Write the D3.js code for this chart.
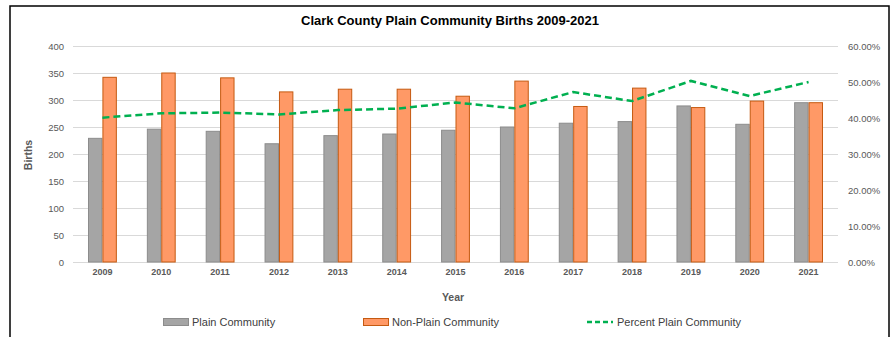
<!DOCTYPE html>
<html>
<head>
<meta charset="utf-8">
<script src="https://cdn.jsdelivr.net/npm/d3@7"></script>
<style>
  html, body { margin: 0; padding: 0; background: #fff; }
  svg { display: block; font-family: "Liberation Sans", Arial, sans-serif; }
</style>
</head>
<body>
<svg id="chart" width="894" height="337"></svg>
<script>
// Births by year, Clark County
const years = ["2009","2010","2011","2012","2013","2014","2015","2016","2017","2018","2019","2020","2021"];
const plainBirths    = [229, 246, 242, 219, 234, 237, 244, 250, 257, 260, 289, 255, 295];
const nonPlainBirths = [342, 350, 341, 315, 320, 320, 307, 335, 288, 322, 286, 298, 295];
const percentPlain   = [0.401, 0.413, 0.415, 0.410, 0.422, 0.426, 0.443, 0.427, 0.472, 0.447, 0.503, 0.461, 0.500];

const birthTicks   = [0, 50, 100, 150, 200, 250, 300, 350, 400];
const percentTicks = [0, 0.1, 0.2, 0.3, 0.4, 0.5, 0.6];

const seriesNames = ["Plain Community", "Non-Plain Community", "Percent Plain Community"];
const colors = {
  plainFill: "#A5A5A5", plainStroke: "#8C8C8C",
  nonPlainFill: "#FF9966", nonPlainStroke: "#C55A11",
  line: "#00B050", grid: "#D9D9D9", text: "#595959", legendText: "#404040"
};

const svg = d3.select("#chart");

// chart frame
svg.append("rect")
  .attr("x", 10).attr("y", 6).attr("width", 879).attr("height", 345)
  .attr("fill", "#fff").attr("stroke", "#000").attr("stroke-width", 1.5);

const plot = { left: 73, right: 838, top: 46, bottom: 262 };

const x = d3.scaleBand().domain(years).range([plot.left, plot.right]).paddingInner(0.51).paddingOuter(0.255);
const x1 = d3.scaleBand().domain(["plain", "nonPlain"]).range([0, x.bandwidth()]);
const y = d3.scaleLinear().domain([0, 400]).range([plot.bottom, plot.top]);
const yPct = d3.scaleLinear().domain([0, 0.6]).range([plot.bottom, plot.top]);

// gridlines
svg.append("g")
  .selectAll("line").data(birthTicks).join("line")
  .attr("x1", plot.left).attr("x2", plot.right)
  .attr("y1", d => Math.round(y(d)) + 0.5).attr("y2", d => Math.round(y(d)) + 0.5)
  .attr("stroke", colors.grid).attr("stroke-width", 1);

// left axis
const leftAxis = svg.append("g")
  .attr("transform", `translate(${plot.left - 9},0)`)
  .call(d3.axisLeft(y).tickValues(birthTicks).tickSize(0).tickPadding(0));
leftAxis.select(".domain").remove();
leftAxis.selectAll("text").attr("fill", colors.text).style("font-size", "9.5px");

// right axis
const rightAxis = svg.append("g")
  .attr("transform", `translate(${plot.right + 10},0)`)
  .call(d3.axisRight(yPct).tickValues(percentTicks).tickFormat(d3.format(".2%")).tickSize(0).tickPadding(0));
rightAxis.select(".domain").remove();
rightAxis.selectAll("text").attr("fill", colors.text).style("font-size", "9.5px");

// bottom axis labels
const bottomAxis = svg.append("g")
  .attr("transform", `translate(0,${plot.bottom + 7})`)
  .call(d3.axisBottom(x).tickSize(0).tickPadding(0));
bottomAxis.select(".domain").remove();
bottomAxis.selectAll("text").attr("fill", colors.text)
  .style("font-size", "9px").style("font-weight", "bold");

// bars
const groups = svg.append("g").selectAll("g").data(years).join("g")
  .attr("transform", d => `translate(${x(d)},0)`);

groups.append("rect")
  .attr("x", x1("plain") + 0.5)
  .attr("y", (d, i) => y(plainBirths[i]))
  .attr("width", x1.bandwidth() - 1)
  .attr("height", (d, i) => y(0) - y(plainBirths[i]))
  .attr("fill", colors.plainFill).attr("stroke", colors.plainStroke).attr("stroke-width", 1);

groups.append("rect")
  .attr("x", x1("nonPlain") + 0.5)
  .attr("y", (d, i) => y(nonPlainBirths[i]))
  .attr("width", x1.bandwidth() - 1)
  .attr("height", (d, i) => y(0) - y(nonPlainBirths[i]))
  .attr("fill", colors.nonPlainFill).attr("stroke", colors.nonPlainStroke).attr("stroke-width", 1);

// percent line
const line = d3.line()
  .x((d, i) => x(years[i]) + x.bandwidth() / 2)
  .y(d => yPct(d));
svg.append("path")
  .datum(percentPlain)
  .attr("d", line)
  .attr("fill", "none").attr("stroke", colors.line)
  .attr("stroke-width", 2.5).attr("stroke-dasharray", "7,4");

// title
svg.append("text")
  .attr("x", 450).attr("y", 25).attr("text-anchor", "middle")
  .attr("textLength", 298).attr("lengthAdjust", "spacingAndGlyphs")
  .style("font-size", "13.5px").style("font-weight", "bold").attr("fill", "#000")
  .text("Clark County Plain Community Births 2009-2021");

// axis titles
svg.append("text")
  .attr("transform", "translate(32,155) rotate(-90)")
  .attr("text-anchor", "middle")
  .style("font-size", "10.5px").style("font-weight", "bold").attr("fill", colors.text)
  .text("Births");

svg.append("text")
  .attr("x", 453).attr("y", 301).attr("text-anchor", "middle")
  .style("font-size", "10.5px").style("font-weight", "bold").attr("fill", colors.text)
  .text("Year");

// legend
const legendY = 322;
const legend = svg.append("g");
const items = [
  { name: seriesNames[0], x: 163, type: "rect", fill: colors.plainFill, stroke: colors.plainStroke },
  { name: seriesNames[1], x: 363, type: "rect", fill: colors.nonPlainFill, stroke: colors.nonPlainStroke },
  { name: seriesNames[2], x: 587, type: "line" }
];
items.forEach(it => {
  if (it.type === "rect") {
    legend.append("rect")
      .attr("x", it.x + 0.5).attr("y", legendY - 3.5).attr("width", 25).attr("height", 7)
      .attr("fill", it.fill).attr("stroke", it.stroke).attr("stroke-width", 1);
  } else {
    legend.append("line")
      .attr("x1", it.x).attr("x2", it.x + 26).attr("y1", legendY).attr("y2", legendY)
      .attr("stroke", colors.line).attr("stroke-width", 2.5).attr("stroke-dasharray", "5,3");
  }
  legend.append("text")
    .attr("x", it.x + (it.type === "rect" ? 29 : 30)).attr("y", legendY + 4)
    .style("font-size", "11px").attr("fill", colors.legendText)
    .text(it.name);
});
</script>
</body>
</html>
